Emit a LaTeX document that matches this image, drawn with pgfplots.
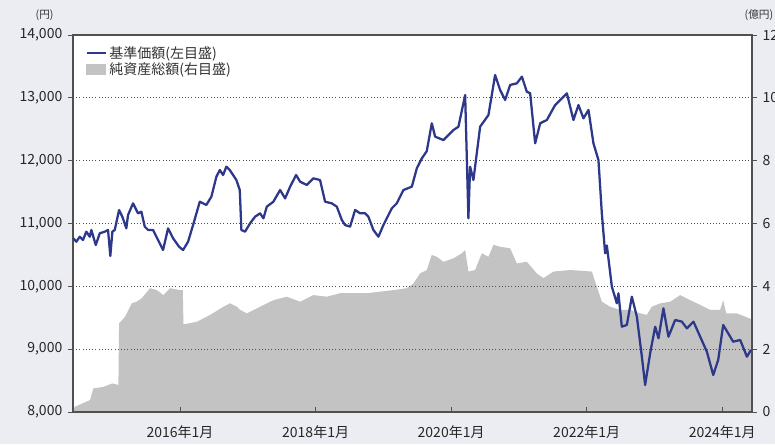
\documentclass[border=0pt]{standalone}
\usepackage{fontspec}
\setmainfont{Noto Sans CJK JP}
\usepackage{pgfplots}
\pgfplotsset{compat=1.18}

\definecolor{bg}{RGB}{236,236,243}
\definecolor{areagray}{RGB}{195,195,195}
\definecolor{navline}{RGB}{46,56,138}
\definecolor{axgray}{RGB}{80,80,80}

% 基準価額 (円)
\pgfplotstableread{
yr nav
2014.425 10765
2014.469 10710
2014.520 10790
2014.568 10738
2014.617 10870
2014.667 10790
2014.691 10897
2014.756 10658
2014.815 10844
2014.889 10870
2014.937 10897
2014.971 10483
2015.001 10870
2015.036 10897
2015.100 11215
2015.148 11108
2015.207 10923
2015.232 11135
2015.306 11321
2015.380 11162
2015.429 11188
2015.479 10950
2015.528 10897
2015.601 10897
2015.675 10738
2015.749 10578
2015.823 10923
2015.897 10765
2015.985 10631
2016.044 10578
2016.118 10710
2016.192 10976
2016.291 11347
2016.388 11295
2016.462 11427
2016.536 11745
2016.586 11851
2016.635 11772
2016.683 11904
2016.734 11851
2016.831 11692
2016.881 11533
2016.905 10897
2016.959 10870
2017.033 11003
2017.107 11108
2017.181 11162
2017.230 11082
2017.280 11268
2017.377 11347
2017.476 11533
2017.550 11400
2017.624 11586
2017.712 11772
2017.771 11666
2017.870 11613
2017.967 11719
2018.066 11692
2018.140 11347
2018.239 11321
2018.313 11268
2018.387 11056
2018.435 10976
2018.509 10950
2018.583 11215
2018.657 11162
2018.731 11162
2018.779 11108
2018.853 10897
2018.927 10790
2019.001 10976
2019.125 11242
2019.198 11321
2019.296 11533
2019.420 11586
2019.494 11879
2019.568 12038
2019.640 12150
2019.715 12595
2019.764 12382
2019.886 12329
2020.034 12488
2020.108 12541
2020.207 13045
2020.255 11082
2020.280 11904
2020.329 11692
2020.428 12541
2020.551 12727
2020.649 13364
2020.723 13125
2020.797 12966
2020.871 13205
2020.970 13231
2021.044 13337
2021.117 13098
2021.166 13072
2021.240 12277
2021.314 12595
2021.413 12648
2021.535 12886
2021.708 13072
2021.805 12648
2021.879 12886
2021.953 12674
2022.027 12807
2022.100 12277
2022.174 12011
2022.224 11162
2022.273 10525
2022.298 10650
2022.372 9995
2022.445 9730
2022.469 9889
2022.519 9358
2022.593 9385
2022.667 9836
2022.741 9517
2022.815 8880
2022.863 8430
2022.937 8934
2023.011 9358
2023.060 9173
2023.133 9650
2023.207 9199
2023.306 9464
2023.405 9438
2023.479 9332
2023.576 9438
2023.675 9199
2023.774 8960
2023.868 8589
2023.941 8828
2024.015 9385
2024.089 9252
2024.162 9119
2024.266 9146
2024.365 8880
2024.424 8987
}\navtable

% 純資産総額 (億円)
\pgfplotstableread{
yr aum
2014.425 0.10
2014.450 0.17
2014.672 0.38
2014.720 0.75
2014.870 0.80
2015.000 0.91
2015.090 0.86
2015.100 2.82
2015.188 3.03
2015.287 3.46
2015.360 3.51
2015.434 3.62
2015.557 3.94
2015.656 3.88
2015.754 3.72
2015.852 3.94
2016.000 3.88
2016.040 3.88
2016.050 2.80
2016.074 2.80
2016.246 2.87
2016.443 3.09
2016.640 3.35
2016.738 3.46
2016.837 3.35
2016.886 3.25
2016.985 3.14
2017.181 3.35
2017.378 3.56
2017.575 3.67
2017.771 3.51
2017.968 3.72
2018.165 3.67
2018.362 3.78
2018.558 3.78
2018.756 3.78
2018.952 3.83
2019.149 3.88
2019.346 3.94
2019.443 4.09
2019.542 4.41
2019.641 4.52
2019.715 5.00
2019.789 4.94
2019.886 4.78
2020.034 4.89
2020.157 5.05
2020.207 5.16
2020.255 4.47
2020.354 4.52
2020.453 5.05
2020.551 4.94
2020.625 5.32
2020.723 5.26
2020.871 5.21
2020.970 4.73
2021.117 4.78
2021.265 4.41
2021.363 4.26
2021.511 4.47
2021.757 4.52
2022.077 4.47
2022.150 3.99
2022.224 3.51
2022.347 3.35
2022.494 3.25
2022.642 3.25
2022.790 3.14
2022.888 3.09
2022.962 3.35
2023.085 3.46
2023.232 3.51
2023.380 3.72
2023.528 3.56
2023.675 3.41
2023.823 3.25
2023.970 3.25
2024.015 3.56
2024.060 3.14
2024.216 3.14
2024.438 2.95
}\aumtable

\begin{document}
\begin{tikzpicture}[x=1pt,y=1pt]
\fill[bg] (0,0) rectangle (581.25,333);
\fill[white] (54.75,24) rectangle (564,306.75);

\pgfplotsset{
  common/.style={
    at={(54.75pt,24pt)}, anchor=south west,
    scale only axis, width=509.25pt, height=282.75pt,
    xmin=2014.42, xmax=2024.44,
    scaled y ticks=false,
    tick label style={font=\fontsize{10.5}{11}\selectfont, text=black!85},
    /pgf/number format/assume math mode=true,
    /pgf/number format/1000 sep={,},
    axis line style={axgray, line width=0.8pt},
    major tick style={axgray, line width=0.6pt},
  }
}

% right axis: net assets
\begin{axis}[common,
    ymin=0, ymax=12, ytick={0,2,...,12},
    axis y line*=right, axis x line=none,
    y tick label style={xshift=1pt},
    tick align=outside, major tick length=3.5pt,
  ]
  \addplot[fill=areagray, draw=none] table[x=yr, y=aum] {\aumtable} \closedcycle;
\end{axis}

% left axis: NAV
\begin{axis}[common,
    ymin=8000, ymax=14000, ytick={8000,9000,...,14000},
    ytick pos=left, xtick pos=bottom,
    xtick={2016,2018,2020,2022,2024},
    xticklabels={2016年1月,2018年1月,2020年1月,2022年1月,2024年1月},
    x tick label style={yshift=-3pt},
    y tick label style={xshift=-1pt},
    tick align=outside, major tick length=3.5pt,
    x tick style={/pgfplots/tick align=inside},
    ymajorgrids, grid style={axgray, dotted, line width=0.7pt},
    legend style={at={(axis description cs:0.012,0.985)}, anchor=north west,
      draw=none, fill=none, font=\fontsize{10.5}{12}\selectfont,
      row sep=-2pt, text=black!80},
    legend cell align=left,
  ]
  \addplot[navline, line width=1.7pt, line join=round,
    legend image code/.code={\draw[navline, line width=1.7pt] (0cm,0cm) -- (0.5cm,0cm);}]
    table[x=yr, y=nav] {\navtable};
  \addlegendentry{基準価額(左目盛)}
  \addlegendimage{legend image code/.code={\fill[areagray] (0cm,-0.12cm) rectangle (0.5cm,0.14cm);}}
  \addlegendentry{純資産総額(右目盛)}
\end{axis}

\node[font=\fontsize{8}{8}\selectfont, text=black!80] at (33.5,321.5) {(円)};
\node[font=\fontsize{8}{8}\selectfont, text=black!80, anchor=west] at (555,321.5) {(億円)};

\pgfresetboundingbox
\path (0,0) rectangle (581.25,333);
\end{tikzpicture}
\end{document}
